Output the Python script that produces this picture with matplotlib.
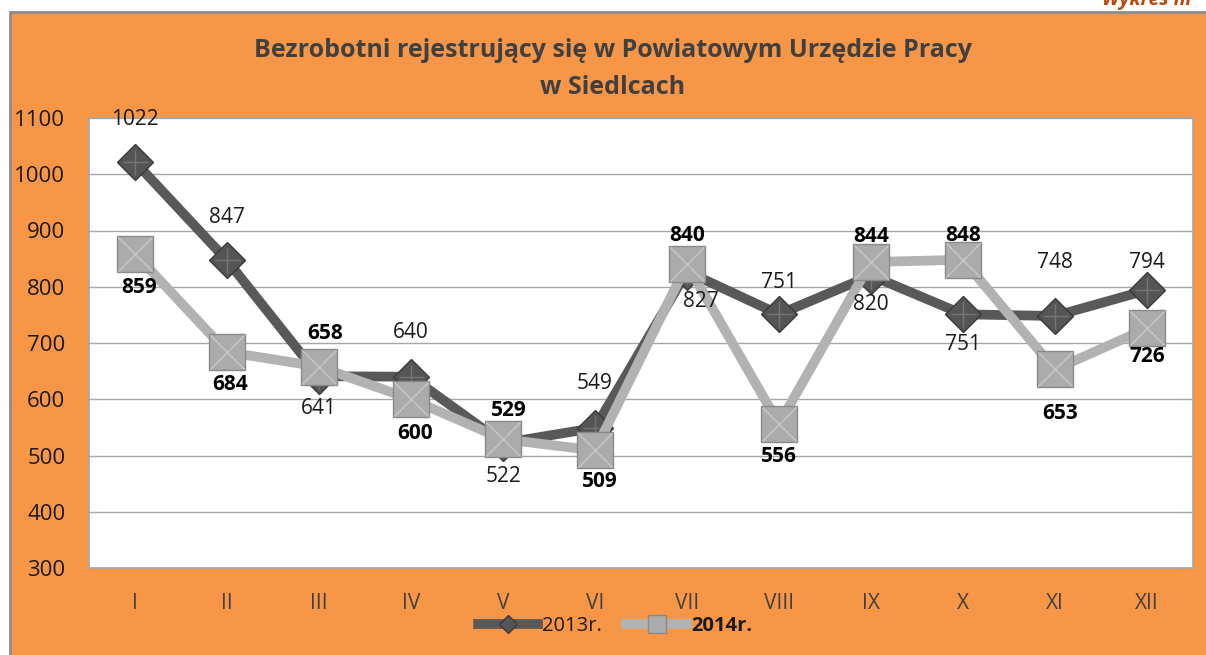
import matplotlib.pyplot as plt
from matplotlib.patches import Rectangle

plt.rcParams['font.family'] = ['Open Sans', 'DejaVu Sans']

# data
months = ['I', 'II', 'III', 'IV', 'V', 'VI', 'VII', 'VIII', 'IX', 'X', 'XI', 'XII']
y2013 = [1022, 847, 641, 640, 522, 549, 827, 751, 820, 751, 748, 794]
y2014 = [859, 684, 658, 600, 529, 509, 840, 556, 844, 848, 653, 726]

# label placement (pixel offsets from the point), as in the original
off2013 = [(0, 42), (0, 43), (0, -32), (0, 44), (0, -33), (0, 44),
           (14, -30), (0, 32), (0, -29), (0, -30), (0, 54), (0, 28)]
off2014 = [(4, -34), (3, -32), (6, 33), (4, -34), (6, 29), (5, -31),
           (0, 29), (0, -33), (0, 26), (0, 24), (5, -44), (0, -28)]

orange = '#F79646'
dark = '#595959'
light = '#B2B2B2'

fig = plt.figure(figsize=(12.06, 6.55), dpi=100)
fig.patch.set_facecolor('white')

# orange chart background with grey frame
bg = Rectangle((10 / 1206, -0.01), 1.02, 1 - 12 / 655 + 0.01,
               transform=fig.transFigure, facecolor=orange,
               edgecolor='#8c8c8c', linewidth=2, zorder=-5)
fig.add_artist(bg)
fig.text(0.99, 1.0, 'Wykres nr', ha='right', va='center', color='#B8470F',
         fontsize=14, fontweight='bold', style='italic')

ax = fig.add_axes([89 / 1206, 1 - 568 / 655, (1193 - 89) / 1206, (568 - 118) / 655])
ax.set_facecolor('white')

x = list(range(len(months)))

ax.plot(x, y2013, color=dark, linewidth=7, marker='D', markersize=18,
        markerfacecolor='#555555', markeredgecolor='#3a3a3a', markeredgewidth=1,
        label='2013r.', zorder=3)
ax.plot(x, y2014, color=light, linewidth=7, marker='s', markersize=26,
        markerfacecolor='#ababab', markeredgecolor='#8a8a8a', markeredgewidth=1,
        label='2014r.', zorder=4)
# bevel hint on the markers
ax.plot(x, y2013, linestyle='none', marker='+', markersize=18,
        markeredgecolor='#757575', markeredgewidth=1, zorder=3.5)
ax.plot(x, y2014, linestyle='none', marker='x', markersize=25,
        markeredgecolor='#c8c8c8', markeredgewidth=1, zorder=4.5)

for i, v in enumerate(y2013):
    ax.annotate(str(v), (x[i], v), xytext=off2013[i], textcoords='offset pixels',
                ha='center', va='center', fontsize=15, color='#1a1a1a', zorder=6)
for i, v in enumerate(y2014):
    ax.annotate(str(v), (x[i], v), xytext=off2014[i], textcoords='offset pixels',
                ha='center', va='center', fontsize=15, fontweight='bold',
                color='black', zorder=6)

ax.set_xlim(-0.5, len(months) - 0.5)
ax.set_ylim(300, 1100)
ax.set_yticks(range(300, 1101, 100))
ax.set_xticks(x)
ax.set_xticklabels(months)
ax.tick_params(axis='both', length=0, colors='#1a1a1a')
ax.tick_params(axis='y', pad=17, labelsize=16)
ax.tick_params(axis='x', pad=18, labelsize=15, labelcolor='#404040')
ax.grid(axis='y', color='#a6a6a6', linewidth=1)
ax.set_axisbelow(True)
for s in ax.spines.values():
    s.set_color('#a6a6a6')
    s.set_linewidth(1.2)

fig.text(613 / 1206, 1 - 69 / 655,
         'Bezrobotni rejestrujący się w Powiatowym Urzędzie Pracy\nw Siedlcach',
         ha='center', va='center', fontsize=18, fontweight='bold',
         color='#404040', linespacing=1.6)

leg = ax.legend(loc='center', bbox_to_anchor=(615 / 1206, 1 - 626 / 655),
                bbox_transform=fig.transFigure, ncol=2, frameon=False,
                fontsize=14.5, handlelength=3.0, columnspacing=1.2,
                handletextpad=0.2, markerscale=0.5)
for t in leg.get_texts():
    t.set_color('#1a1a1a')
leg.get_texts()[1].set_fontweight('bold')

fig.savefig('out.png', dpi=100, facecolor=fig.get_facecolor())
